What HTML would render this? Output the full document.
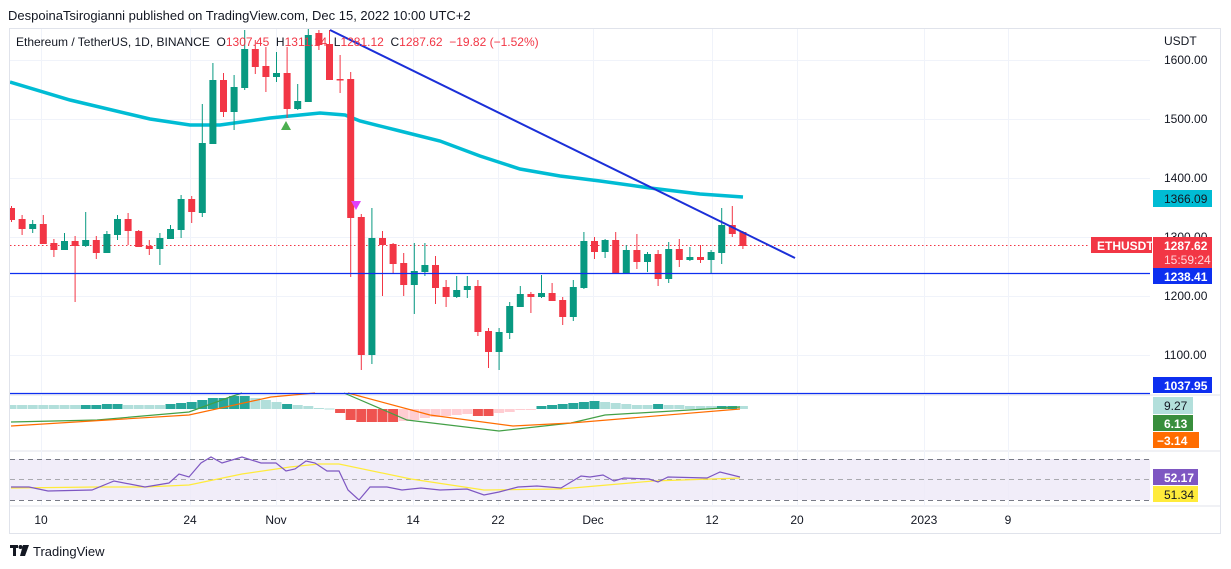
<!DOCTYPE html>
<html><head><meta charset="utf-8"><style>
html,body{margin:0;padding:0;background:#fff;width:1231px;height:569px;overflow:hidden}
svg{display:block}
text{font-family:"Liberation Sans",sans-serif}
</style></head><body>
<svg id="s" width="1231" height="569" viewBox="0 0 1231 569" xmlns="http://www.w3.org/2000/svg">
<defs><clipPath id="cp"><rect x="10" y="29" width="1140" height="477"/></clipPath></defs>
<rect width="1231" height="569" fill="#fff"/>
<text x="8" y="20" font-size="13" fill="#131722">DespoinaTsirogianni published on TradingView.com, Dec 15, 2022 10:00 UTC+2</text>
<rect x="9.5" y="28.5" width="1211" height="505" fill="none" stroke="#e0e3eb"/>
<line x1="10" y1="395" x2="1220" y2="395" stroke="#e0e3eb"/>
<line x1="10" y1="451" x2="1220" y2="451" stroke="#e0e3eb"/>
<line x1="10" y1="506" x2="1220" y2="506" stroke="#e0e3eb"/>
<g id="grid" stroke="#f0f3fa" stroke-width="1"></g>
<rect x="10" y="459" width="1140" height="41" fill="#ede8f7" opacity="0.8"/>
<line x1="10" y1="459.5" x2="1150" y2="459.5" stroke="#787b86" stroke-dasharray="5,4"/>
<line x1="10" y1="479.5" x2="1150" y2="479.5" stroke="#aaaab0" stroke-dasharray="5,4"/>
<line x1="10" y1="500.5" x2="1150" y2="500.5" stroke="#787b86" stroke-dasharray="5,4"/>
<g clip-path="url(#cp)">
<g id="hist"></g>
<polyline fill="none" stroke="#43a047" stroke-width="1.2" points="11,422 97,420 189,412 230,397 242,393"/>
<polyline fill="none" stroke="#43a047" stroke-width="1.2" points="344,393 407,420 499,431 571,423 605,415 740,407"/>
<polyline fill="none" stroke="#ff6d00" stroke-width="1.2" points="11,426 189,415 271,397 315,393"/>
<polyline fill="none" stroke="#ff6d00" stroke-width="1.2" points="348,393 430,415 513,426 571,423 740,409"/>
<polyline fill="none" stroke="#ffeb3b" stroke-width="1.2" points="11,488 97,487 145,487 189,485 242,474 290,467 319,464 339,464 411,479 484,490 561,489 653,481 740,478"/>
<polyline fill="none" stroke="#7e57c2" stroke-width="1.2" points="11,487 29,487 48,491 92,490 114,481 145,487 169,483 179,474 189,477 201,463 211,457 222,463 242,457 261,463 276,463 286,471 295,469 306,461 315,463 327,471 339,471 348,490 359,500 370,487 387,487 402,490 421,488 440,490 467,489 484,495 499,492 518,487 537,486 561,488 581,476 590,477 603,475 614,481 624,478 649,479 658,482 668,477 707,478 720,472 740,477"/>
<polyline fill="none" stroke="#00bcd4" stroke-width="3.5" points="10,82 70,100 150,119 190,125 220,125 270,118 320,113 345,115 360,121 400,131 440,141 480,156 520,169 560,176 600,181 650,188 700,194 743,197"/>
<line x1="10" y1="245.5" x2="1090" y2="245.5" stroke="#f23645" stroke-dasharray="1.5,2.5"/>
<g id="candles"></g>
</g>
<line x1="10" y1="273.5" x2="1150" y2="273.5" stroke="#0d2ff0" stroke-width="1.2"/>
<line x1="10" y1="393.5" x2="1150" y2="393.5" stroke="#0d2ff0" stroke-width="1.2"/>
<line x1="330" y1="30" x2="795" y2="258" stroke="#1b2fd8" stroke-width="2"/>
<polygon points="281,130 291,130 286,121" fill="#4caf50"/>
<polygon points="351,201 361,201 356,210" fill="#e040fb"/>
<text x="16" y="46" font-size="12" fill="#131722" xml:space="preserve">Ethereum / TetherUS, 1D, BINANCE  O<tspan fill="#f23645">1307.45</tspan>  H<tspan fill="#f23645">1311.14</tspan>  L<tspan fill="#f23645">1281.12</tspan>  C<tspan fill="#f23645">1287.62  −19.82 (−1.52%)</tspan></text>
<g font-size="12" fill="#131722">
<text x="1164" y="45">USDT</text>
<text x="1164" y="64">1600.00</text>
<text x="1164" y="123">1500.00</text>
<text x="1164" y="182">1400.00</text>
<text x="1164" y="241">1300.00</text>
<text x="1164" y="300">1200.00</text>
<text x="1164" y="359">1100.00</text>
</g>
<g font-size="12" font-weight="bold">
<rect x="1153" y="190" width="59" height="17" fill="#00bcd4"/><text x="1164" y="203" fill="#131722" font-weight="normal">1366.09</text>
<rect x="1091" y="237" width="61" height="16" fill="#f23645"/><text x="1097" y="250" fill="#fff">ETHUSDT</text>
<rect x="1153" y="237" width="59" height="31" fill="#f23645"/><text x="1164" y="250" fill="#fff">1287.62</text><text x="1164" y="264" fill="#ffd6da" font-weight="normal">15:59:24</text>
<rect x="1153" y="268" width="59" height="16" fill="#0d2ff0"/><text x="1164" y="281" fill="#fff">1238.41</text>
<rect x="1153" y="377" width="59" height="16" fill="#0d2ff0"/><text x="1164" y="390" fill="#fff">1037.95</text>
<rect x="1153" y="397" width="40" height="17" fill="#b2dfdb"/><text x="1164" y="410" fill="#131722" font-weight="normal">9.27</text>
<rect x="1153" y="415" width="40" height="16" fill="#388e3c"/><text x="1164" y="428" fill="#fff">6.13</text>
<rect x="1153" y="432" width="46" height="16" fill="#ff6d00"/><text x="1157" y="445" fill="#fff">−3.14</text>
<rect x="1153" y="469" width="45" height="16" fill="#7e57c2"/><text x="1164" y="482" fill="#fff">52.17</text>
<rect x="1153" y="486" width="45" height="16" fill="#ffeb3b"/><text x="1164" y="499" fill="#131722" font-weight="normal">51.34</text>
</g>
<g font-size="12" fill="#131722" text-anchor="middle">
<text x="41" y="524">10</text><text x="190" y="524">24</text><text x="276" y="524">Nov</text><text x="413" y="524">14</text><text x="498" y="524">22</text><text x="593" y="524">Dec</text><text x="712" y="524">12</text><text x="797" y="524">20</text><text x="924" y="524">2023</text><text x="1008" y="524">9</text>
</g>
<g fill="#131722"><rect x="10" y="545" width="8" height="3"/><rect x="13" y="545" width="3" height="11"/><circle cx="20.5" cy="547" r="2"/><polygon points="23,545 29,545 25,556 20,556"/></g>
<text x="33" y="556" font-size="13" fill="#131722">TradingView</text>
</svg>
<script>
var NS="http://www.w3.org/2000/svg";
function el(p,t,a){var e=document.createElementNS(NS,t);for(var k in a)e.setAttribute(k,a[k]);p.appendChild(e);return e;}
var g=document.getElementById('grid');
[60,119,178,237,296,355].forEach(function(y){el(g,'line',{x1:10,x2:1150,y1:y+.5,y2:y+.5});});
[41,190,276,413,498,593,712,797,924,1008].forEach(function(x){el(g,'line',{x1:x+.5,x2:x+.5,y1:29,y2:506});});
var C=[[0,208,220,206,222],[0,219,229,215,235],[1,224,229,220,233],[0,224,244,215,244],[0,243,250,239,257],[1,241,250,233,250],[0,241,246,236,302],[1,240,246,212,247],[0,240,253,236,259],[1,234,253,231,253],[1,219,235,215,240],[0,219,231,213,245],[0,231,247,230,247],[0,246,249,240,255],[1,238,249,233,265],[1,229,239,225,239],[1,199,230,195,238],[0,199,212,196,223],[1,143,213,104,217],[1,80,144,63,144],[0,80,112,73,117],[1,87,112,75,130],[1,49,88,30,90],[0,49,67,40,74],[0,66,77,47,92],[1,73,77,52,82],[0,73,109,47,118],[1,101,109,84,110],[1,35,102,28,102],[0,33,45,30,50],[0,44,80,30,80],[0,79,80,55,93],[0,79,218,72,277],[0,217,355,214,370],[1,238,355,208,364],[0,238,245,231,296],[0,244,264,243,274],[0,263,285,253,296],[1,271,285,243,314],[1,265,272,243,276],[0,265,288,256,304],[0,287,297,280,307],[1,290,297,276,298],[1,286,290,276,298],[0,286,332,280,336],[0,331,352,328,368],[1,332,352,328,370],[1,306,333,302,339],[1,294,307,286,307],[0,294,297,292,313],[1,293,297,275,298],[0,293,301,283,301],[0,300,317,297,325],[1,287,317,280,321],[1,241,288,232,289],[0,241,252,237,259],[1,240,252,239,258],[0,240,274,232,274],[1,250,274,245,274],[0,250,262,234,269],[1,254,262,252,272],[0,254,279,250,286],[1,249,279,242,283],[0,249,260,239,267],[1,257,260,247,261],[0,257,260,245,263],[1,252,260,250,273],[1,225,253,208,264],[0,225,234,206,237],[0,232,246,231,249]];
var cg=document.getElementById('candles');
C.forEach(function(c,i){var x=11.5+10.6*i;var col=c[0]?'#089981':'#f23645';
el(cg,'line',{x1:x,x2:x,y1:c[3],y2:c[4],stroke:col,'stroke-width':1});
el(cg,'rect',{x:x-3.5,y:c[1],width:7,height:Math.max(1.5,c[2]-c[1]),fill:col});});
var H=[[0,405],[0,405],[0,405],[0,405],[0,405],[0,405],[0,405],[1,405],[1,405],[1,404],[1,404],[0,405],[0,405],[0,405],[0,405],[1,404],[1,403],[1,402],[1,400],[1,398],[1,398],[1,396],[1,396],[0,398],[0,400],[0,402],[1,404],[0,405],[0,406],[0,408],[0,408.5],[2,413],[2,420],[2,422],[2,422],[2,422],[2,422],[3,421],[3,420],[3,418],[3,417],[3,416],[3,415],[3,414],[2,416],[2,416],[3,413],[3,412],[3,410],[3,409.5],[1,406],[1,405],[1,404],[1,403],[1,402],[1,401],[0,402],[0,403],[0,404],[0,405],[0,405],[1,404],[0,405],[0,405],[0,406],[0,406],[0,406],[1,406],[1,406],[0,406]];
var hg=document.getElementById('hist');var cols=['#b2dfdb','#26a69a','#ef5350','#ffcdd2'];
H.forEach(function(h,i){var x=11.5+10.6*i;var base=409;var y=Math.min(h[1],base),hh=Math.abs(h[1]-base);
el(hg,'rect',{x:x-5,y:y,width:10,height:Math.max(1,hh),fill:cols[h[0]]});});
</script>
</body></html>
